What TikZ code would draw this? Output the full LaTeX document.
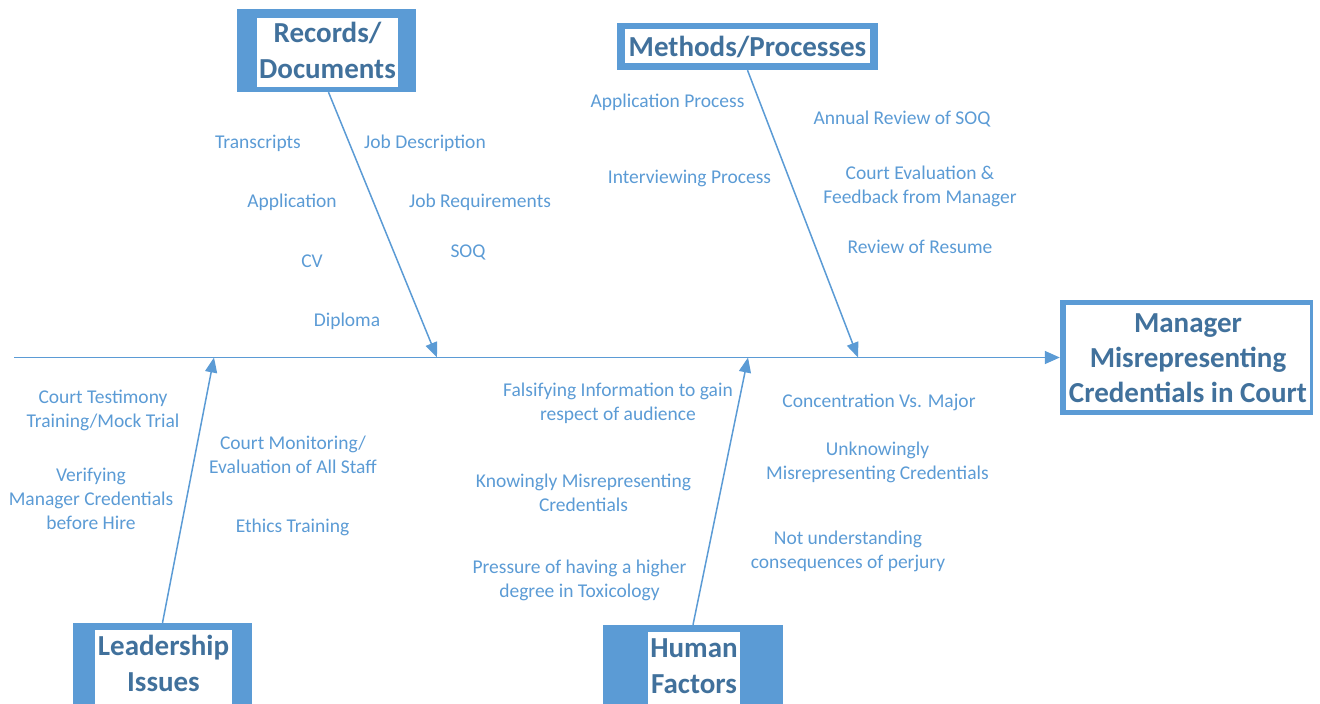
\documentclass[tikz,border=0pt]{standalone}
\usepackage{fontspec}
\setmainfont{Carlito}
\usetikzlibrary{arrows.meta,positioning}
\definecolor{fishblue}{RGB}{91,155,213}
\definecolor{headblue}{RGB}{65,113,156}

\begin{document}
\begin{tikzpicture}[x=1pt, y=-1pt,
    cause/.style={text=fishblue, align=center, inner sep=0pt, yshift=-1.5pt, font=\fontsize{19.5}{24}\selectfont},
    headframe/.style={fill=fishblue, inner sep=0pt},
    headtext/.style={text=headblue, align=center, inner sep=0pt, font=\bfseries\fontsize{29}{36}\selectfont},
    arrow/.style={-{Triangle[length=15pt,width=12pt]}, line width=1.5pt, fishblue}
]
\useasboundingbox (0,0) rectangle (1320,704);
\clip (0,0) rectangle (1320,704);

% Category boxes
\node[headframe, minimum width=179pt, minimum height=83pt] (rec) at (326.5,50.5) {};
\fill[white] (257,18) rectangle (398,87);
\node[headtext] at (327.5,50) {Records/\\Documents};

\node[headframe, minimum width=261pt, minimum height=47pt] (met) at (747.5,46.5) {};
\fill[white] (625,29) rectangle (870,63);
\node[headtext] at (747.5,47) {Methods/Processes};

\node[headframe, minimum width=179pt, minimum height=100pt] (lead) at (162.5,673) {};
\fill[white] (95,630) rectangle (232,730);
\node[headtext] at (163.5,663) {Leadership\\Issues};

\node[headframe, minimum width=180pt, minimum height=100pt] (hum) at (693,675) {};
\fill[white] (648,632) rectangle (740,730);
\node[headtext] at (694,666) {Human\\Factors};

% Effect
\node[headframe, minimum width=253pt, minimum height=115pt] (effect) at (1186.5,357.5) {};
\fill[white] (1066,305) rectangle (1310,410);
\node[headtext, font=\bfseries\fontsize{29}{35}\selectfont] at (1188,358) {Manager\\Misrepresenting\\Credentials in Court};

% Spine and branches
\coordinate (tail) at (14,357.5);
\coordinate (rj) at (437,357.5);
\coordinate (mj) at (858,357.5);
\coordinate (lj) at (214,357.5);
\coordinate (hj) at (748,357.5);
\draw[arrow, -{Triangle[length=15pt,width=13pt]}] (tail) -- (effect.west);
\draw[arrow] ([xshift=2pt]rec.south) -- (rj);
\draw[arrow] (met.south) -- (mj);
\draw[arrow] (lead.north) -- (lj);
\draw[arrow] (hum.north) -- (hj);

% Records/Documents
\node[cause] (r1) at (258,142) {Transcripts};
\node[cause] (r2) at (292,201) {Application};
\node[cause] (r3) at (312,260) {CV};
\node[cause] (r4) at (347,320) {Diploma};
\node[cause] (r5) at (425,142) {Job Description};
\node[cause] (r6) at (480,201) {Job Requirements};
\node[cause] (r7) at (468,251) {SOQ};

% Methods/Processes
\node[cause] (m1) at (667.5,101) {Application Process};
\node[cause] (m2) at (689.5,177) {Interviewing Process};
\node[cause] (m3) at (902,118) {Annual Review of SOQ};
\node[cause] (m4) at (920,185) {Court Evaluation \&\\Feedback from Manager};
\node[cause] (m5) at (920,245) {Review of Resume};

% Leadership Issues
\node[cause] (l1) at (103,409) {Court Testimony\\Training/Mock Trial};
\node[cause] (l2) at (91,497) {Verifying\\Manager Credentials\\before Hire};
\node[cause] (l3) at (293,453) {Court Monitoring/\\Evaluation of All Staff};
\node[cause] (l4) at (292.5,526) {Ethics Training};

% Human Factors
\node[cause] (h1) at (618,402) {Falsifying Information to gain\\respect of audience};
\node[cause] (h2) at (583.5,491) {Knowingly Misrepresenting\\Credentials};
\node[cause] (h3) at (579.5,579) {Pressure of having a higher\\degree in Toxicology};
\node[cause] (h4) at (879,401) {Concentration Vs. Major};
\node[cause] (h5) at (877.5,461) {Unknowingly\\Misrepresenting Credentials};
\node[cause] (h6) at (848,550) {Not understanding\\consequences of perjury};

\end{tikzpicture}
\end{document}
